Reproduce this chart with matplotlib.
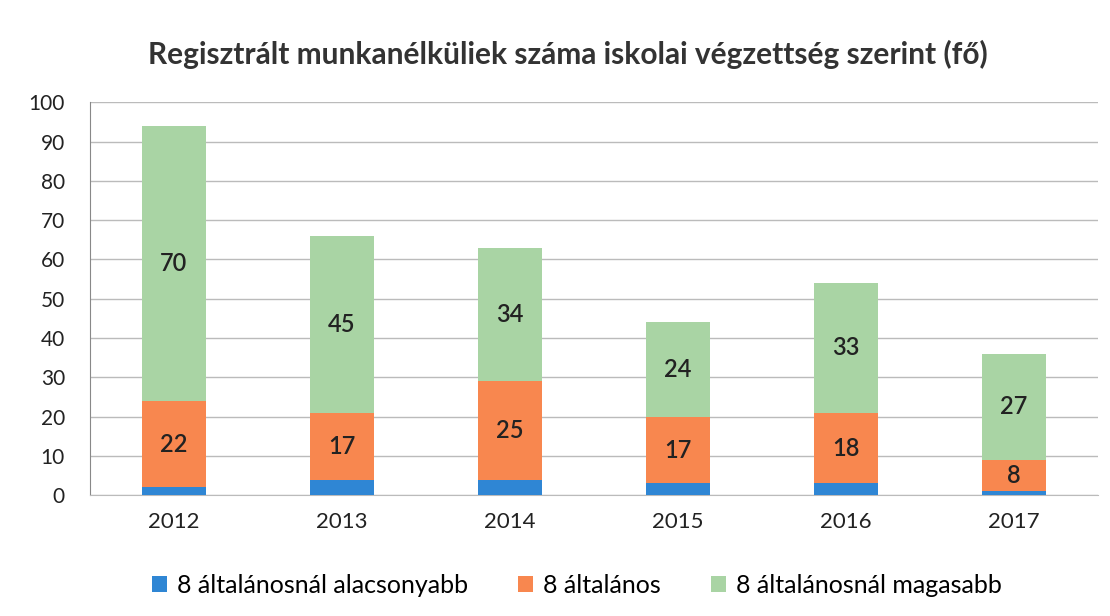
import matplotlib
matplotlib.use("Agg")
import matplotlib.pyplot as plt
import numpy as np

years = ["2012", "2013", "2014", "2015", "2016", "2017"]
below8 = [2, 4, 4, 3, 3, 1]
eight = [22, 17, 25, 17, 18, 8]
above8 = [70, 45, 34, 24, 33, 27]
series_names = ["8 általánosnál alacsonyabb", "8 általános", "8 általánosnál magasabb"]
title = "Regisztrált munkanélküliek száma iskolai végzettség szerint (fő)"

plt.rcParams['font.family'] = ['Lato', 'DejaVu Sans']

fig = plt.figure(figsize=(11.1, 6.16), dpi=100)
ax = fig.add_axes([0.081, 0.196, 0.908, 0.638])

x = np.arange(len(years))
w = 0.38
c_blue = "#2F86D4"
c_orange = "#F8874F"
c_green = "#A9D4A4"

b1 = ax.bar(x, below8, w, color=c_blue, label=series_names[0], zorder=3)
b2 = ax.bar(x, eight, w, bottom=below8, color=c_orange, label=series_names[1], zorder=3)
bottom3 = np.array(below8) + np.array(eight)
b3 = ax.bar(x, above8, w, bottom=bottom3, color=c_green, label=series_names[2], zorder=3)

for i in range(len(years)):
    ax.text(x[i], below8[i] + eight[i] / 2, str(eight[i]), ha='center', va='center',
            fontsize=17, fontweight='semibold', color='#222222', zorder=4)
    ax.text(x[i], bottom3[i] + above8[i] / 2, str(above8[i]), ha='center', va='center',
            fontsize=17, fontweight='semibold', color='#222222', zorder=4)

ax.set_ylim(0, 100)
ax.set_yticks(range(0, 101, 10))
ax.set_xlim(-0.5, len(years) - 0.5)
ax.set_xticks(x)
ax.set_xticklabels(years)
ax.tick_params(axis='y', labelsize=15, colors='#222222', length=0, pad=18)
ax.tick_params(axis='x', labelsize=16, colors='#222222', length=0, pad=12)
ax.yaxis.grid(True, color='#BBBBBB', linewidth=1, zorder=0)
for s in ['top', 'right']:
    ax.spines[s].set_visible(False)
ax.spines['left'].set_color('#888888')
ax.spines['bottom'].set_color('#BBBBBB')

fig.text(0.512, 0.912, title, ha='center', va='center', fontsize=21.5, fontweight='bold', color='#333333')

fig.legend(handles=[b1, b2, b3], labels=series_names, loc='center', bbox_to_anchor=(0.52, 0.05),
           ncol=3, frameon=False, fontsize=18, handlelength=0.6, handleheight=0.6,
           columnspacing=2.0, handletextpad=0.4)

fig.savefig("out.png", dpi=100)
